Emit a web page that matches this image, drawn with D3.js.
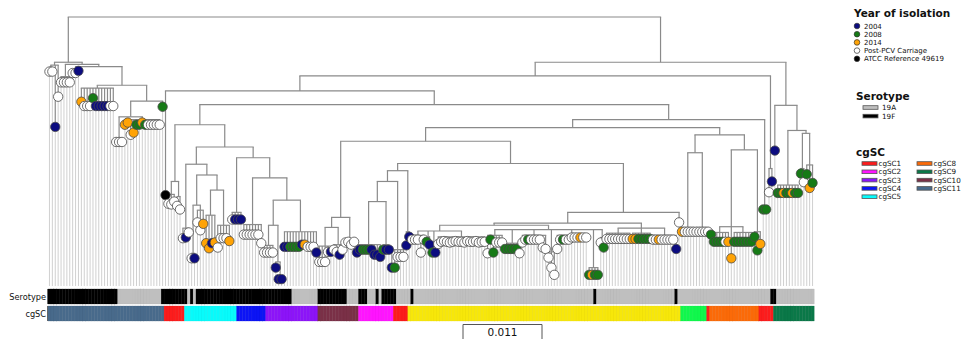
<!DOCTYPE html>
<html>
<head>
<meta charset="utf-8">
<script src="https://cdn.jsdelivr.net/npm/d3@7/dist/d3.min.js"></script>
<style>
  body { margin: 0; background: #fff; }
  text { font-family: "DejaVu Sans", Verdana, sans-serif; fill: #111; }
</style>
</head>
<body>
<svg id="tree" width="969" height="339"></svg>
<script>
// ---- tree (newick, branch lengths in substitutions/site), tip names = year code ----
// w = Post-PCV carriage, b = 2004, g = 2008, o = 2014, k = ATCC reference
const cladeA1 = "((w:.0006,w:.0006):.0003,b:.0086,w:.0044):.0004";
const cladeAQ = "(w:.0008,w:.0008,w:.0008,w:.0008):.0017";
const cladeAR = "(w:.0006,w:.0006,b:.0003):.0003";
const cladeAS = "(o:.0019,w:.0025,w:.0025,w:.0025,g:.0014,b:.0025,b:.0025,b:.0025,b:.0025,b:.0025,w:.0025,w:.0025):.0004";
const cladeAT = "(w:.0006,w:.0006,w:.0006):.0029";
const cladeAU = "(o:.0007,o:.0004,w:.0021,o:.0018,g:.0007,g:.0007,o:.0004,g:.0007,w:.0007,w:.0007,w:.0007,w:.0007,w:.0007):.0004";
const cladeA = "(" + cladeA1 + ",(" + cladeAQ + ",(" + cladeAR + ",(" + cladeAS + ",((" + cladeAT + "," + cladeAU +
  "):.0022,g:.0008):.0022):.0026):.0003):.0003):.0063";

const cladeE = "(((w:.0013,w:.0014,w:.0010):.0018,(w:.0013,w:.0018):.0021):.0079," +
  "(((w:.0014,b:.0013,w:.0006):.0089," +
  "(((w:.0007,b:.0007):.0067,(w:.0017,w:.0028,o:.0019):.0007):.0042," +
  "((o:.0039,o:.0046,b:.0039,o:.0038):.0035,(w:.0031,w:.0018,w:.0018,w:.0018,o:.0022):.0049):.0021):.0015):.0024," +
  "((w:.0010,b:.0010,b:.0010,b:.0010):.0076," +
  "((w:.0014,w:.0014,w:.0014,w:.0014,w:.0014,w:.0014,w:.0026):.0065," +
  "(((w:.0010,w:.0010,w:.0010,w:.0010):.0028,(b:.0008,(b:.0003,b:.0003):.0021):.0051):.0035," +
  "(b:.0021,b:.0021,g:.0021,g:.0021,g:.0021,g:.0021,b:.0018,o:.0018,w:.0021,w:.0021,w:.0021,b:.0029):.0044):.0031):.0028):.0015):.0031):.0028";

const cladeV = "(((w:.0022,w:.0022,w:.0022,w:.0008,b:.0008):.0026,(w:.0007,w:.0010,b:.0014,w:.0007):.0024):.0014," +
  "(w:.0004,w:.0003,w:.0007,w:.0003):.0031):.0106";

const cladeW = "((((b:.0011,b:.0007,g:.0007,g:.0007,g:.0007,b:.0007,b:.0014,b:.0014,b:.0017):.0060,(g:.0007,b:.0007,b:.0007):.0060):.0028," +
  "(b:.0025,g:.0025,w:.0010,w:.0010,w:.0010):.0095):.0015,(b:.0019,b:.0007):.0085):.0010";

const cladeN3 = "((w:.0006,w:.0006,w:.0006,w:.0024,w:.0006):.0006,(g:.0007,b:.0011):.0008,(g:.0008,b:.0008):.0022," +
  "(w:.0010,w:.0007,w:.0006,w:.0007,w:.0008,w:.0007,w:.0006,w:.0007,w:.0007,w:.0008,w:.0006,w:.0007,w:.0007,w:.0006,w:.0008,w:.0007,w:.0007):.0008):.0008";

const cladeN4 = "((w:.0025,g:.0006,g:.0024,w:.0010,w:.0010,w:.0010):.0008,(g:.0008,g:.0008,g:.0008,g:.0008,g:.0008,w:.0014):.0019," +
  "(w:.0010,w:.0006,g:.0006,w:.0006,w:.0006,w:.0006,w:.0006,w:.0017,w:.0019):.0008,(w:.0008,w:.0022,w:.0032):.0031," +
  "(w:.0019,w:.0006,g:.0006,w:.0006,w:.0006,w:.0003,w:.0003,w:.0003,o:.0003,w:.0003,w:.0003):.0008," +
  "(g:.0010,o:.0010,g:.0010,g:.0010):.0053,(w:.0007,g:.0014):.0011):.0006";

const cladeN5 = "((w:.0008,w:.0008,w:.0008,w:.0008,w:.0008,w:.0008,w:.0008,w:.0008,w:.0008):.0007," +
  "(o:.0008,o:.0008,g:.0008,g:.0008,g:.0008,g:.0008,g:.0008):.0007," +
  "(w:.0006,w:.0006,o:.0006,w:.0006,w:.0006,w:.0006,w:.0006,w:.0006,b:.0019):.0010):.0007";

const cladeZ = "(((o:.0006,w:.0006,w:.0006,w:.0006,w:.0006):.0104,(w:.0006,w:.0006,w:.0006,w:.0006,w:.0006):.0104):.0025," +
  "(((g:.0003,g:.0013,g:.0013,g:.0013,g:.0013,w:.0013,o:.0013):.0008,o:.0044,(g:.0013,g:.0013,g:.0013,g:.0013,g:.0013,g:.0013,g:.0013):.0008):.0107," +
  "(g:.0007,g:.0026,o:.0017):.0114):.0021):.0010";

const cladeB2 = "(b:.0063,((g:.0011,g:.0011,o:.0011,g:.0011,g:.0011,o:.0011,g:.0011,g:.0011):.0076," +
  "((g:.0007,w:.0019):.0049,(g:.0013,o:.0032,g:.0025):.0044):.0004):.0035):.0060";

const cladeY213 = "(((" + cladeN3 + "," + cladeN4 + "):.0003," + cladeN5 + "):.0015,w:.0014):.0068";
const cladeY142 = "(" + cladeV + ",(" + cladeW + "," + cladeY213 + "):.0031):.0019";
const cladeY120 = "((" + cladeY142 + "," + cladeZ + "):.0011,(g:.0004,g:.0004):.0121):.0021";
const cladeB1 = "((k:.0145,(" + cladeE + "," + cladeY120 + "):.0019):.0021,(w:.0033,b:.0018):.0129):.0019";
const treeNewick = "(" + cladeA + ",(" + cladeB1 + "," + cladeB2 + "):.0063);";

// ---- tip annotation ----
const yearCodes = ["b", "g", "o", "w", "k"];
const yearLabels = ["2004", "2008", "2014", "Post-PCV Carriage", "ATCC Reference 49619"];
const yearColors = ["#0c0c80", "#167a16", "#ffa305", "#ffffff", "#000000"];

const serotypeNames = ["19A", "19F"];
const serotypeColors = ["#bfbfbf", "#000000"];
// runs along the tips, left to right
const serotypeRuns = [["19F", 24], ["19A", 15], ["19F", 9], ["19A", 1], ["19F", 1], ["19A", 1], ["19F", 33],
  ["19A", 9], ["19F", 10], ["19A", 4], ["19F", 3], ["19A", 3], ["19F", 1], ["19A", 1], ["19F", 5], ["19A", 5],
  ["19F", 1], ["19A", 62], ["19F", 1], ["19A", 27], ["19F", 1], ["19A", 32], ["19F", 2], ["19A", 13]];

const cgscNames = ["cgSC1", "cgSC2", "cgSC3", "cgSC4", "cgSC5", "cgSC6", "cgSC7", "cgSC8", "cgSC9", "cgSC10", "cgSC11"];
const cgscColors = ["#fc1c1c", "#ff14ff", "#8c14f8", "#0c14f5", "#08fbfb", "#10f84c", "#f7e70a", "#fb6a08", "#0a7848", "#7a3047", "#486a8b"];
const cgscRuns = [["cgSC11", 40], ["cgSC1", 7], ["cgSC5", 18], ["cgSC4", 10], ["cgSC3", 18], ["cgSC10", 14],
  ["cgSC2", 12], ["cgSC1", 5], ["cgSC7", 94], ["cgSC6", 9], ["cgSC1", 1], ["cgSC8", 17], ["cgSC1", 5], ["cgSC9", 14]];
const cgscLegend = ["cgSC1", "cgSC2", "cgSC3", "cgSC4", "cgSC5", "cgSC8", "cgSC9", "cgSC10", "cgSC11"];

const scaleBarValue = 0.011;

// ---- newick parser ----
function parseNewick(s) {
  let i = 0;
  function node() {
    const n = {};
    if (s[i] === "(") {
      i++;
      n.children = [];
      do { n.children.push(node()); } while (s[i++] === ",");
    }
    let name = "";
    while (i < s.length && !",():;".includes(s[i])) name += s[i++];
    n.name = name;
    n.length = 0;
    if (s[i] === ":") {
      i++;
      let num = "";
      while (i < s.length && !",();".includes(s[i])) num += s[i++];
      n.length = +num;
    }
    return n;
  }
  return node();
}

const svg = d3.select("#tree");
const rootY = 17, tipBottom = 286;
const stripLeft = 48, stripRight = 814;

const root = d3.hierarchy(parseNewick(treeNewick));
root.eachBefore(d => d.dist = d.parent ? d.parent.dist + d.data.length : 0);
const leaves = root.leaves();

// tips along x, divergence down the page
const x = d3.scaleLinear().domain([0, leaves.length]).range([stripLeft, stripRight]);
const y = d3.scaleLinear().domain([0, scaleBarValue]).range([rootY, rootY + 79]);

leaves.forEach((d, i) => { d.x = x(i + 0.5); });
root.eachAfter(d => {
  if (d.children) d.x = (d.children[0].x + d.children[d.children.length - 1].x) / 2;
});

// faint guide lines from each tip down to the annotation strips
svg.append("g")
  .selectAll("line")
  .data(leaves)
  .join("line")
  .attr("x1", d => d.x).attr("x2", d => d.x)
  .attr("y1", d => y(d.dist)).attr("y2", tipBottom)
  .attr("stroke", "#d0d0d0")
  .attr("stroke-width", 1);

// branches: vertical to every node, horizontal across children
const branches = svg.append("g")
  .attr("fill", "none")
  .attr("stroke", "#8a8a8a")
  .attr("stroke-width", 1.2);
branches.selectAll(".v")
  .data(root.descendants().filter(d => d.parent))
  .join("line")
  .attr("class", "v")
  .attr("x1", d => d.x).attr("x2", d => d.x)
  .attr("y1", d => y(d.parent.dist)).attr("y2", d => y(d.dist));
branches.selectAll(".h")
  .data(root.descendants().filter(d => d.children))
  .join("line")
  .attr("class", "h")
  .attr("x1", d => d.children[0].x - 0.6)
  .attr("x2", d => d.children[d.children.length - 1].x + 0.6)
  .attr("y1", d => y(d.dist)).attr("y2", d => y(d.dist));

// tip circles coloured by year of isolation
const yearColor = d3.scaleOrdinal(yearCodes, yearColors);
svg.append("g")
  .selectAll("circle")
  .data(leaves)
  .join("circle")
  .attr("cx", d => d.x)
  .attr("cy", d => y(d.dist))
  .attr("r", 4.7)
  .attr("fill", d => yearColor(d.data.name))
  .attr("stroke", "#4a4a4a")
  .attr("stroke-width", 0.8);

// annotation strips
const serotypeByTip = serotypeRuns.flatMap(([k, n]) => Array(n).fill(k));
const cgscByTip = cgscRuns.flatMap(([k, n]) => Array(n).fill(k));
const serotypeColor = d3.scaleOrdinal(serotypeNames, serotypeColors);
const cgscColor = d3.scaleOrdinal(cgscNames, cgscColors);

function strip(values, colour, y0, label) {
  const g = svg.append("g");
  g.selectAll("rect")
    .data(values)
    .join("rect")
    .attr("x", (d, i) => x(i))
    .attr("width", (d, i) => x(i + 1) - x(i) + 0.2)
    .attr("y", y0)
    .attr("height", 15)
    .attr("fill", d => colour(d))
    .attr("stroke", d => d3.color(colour(d)).darker(0.25))
    .attr("stroke-width", 0.25);
  g.append("line")
    .attr("x1", stripLeft - 0.5).attr("x2", stripLeft - 0.5)
    .attr("y1", y0).attr("y2", y0 + 15)
    .attr("stroke", "#666");
  g.append("text")
    .attr("x", stripLeft - 2)
    .attr("y", y0 + 11)
    .attr("text-anchor", "end")
    .attr("font-size", 8.2)
    .text(label);
}
strip(serotypeByTip, serotypeColor, 289, "Serotype");
strip(cgscByTip, cgscColor, 306, "cgSC");

// scale bar
const barLen = y(scaleBarValue) - y(0);
const barMid = 502.5;
svg.append("path")
  .attr("d", `M${barMid - barLen / 2},340 V324.5 H${barMid + barLen / 2} V340`)
  .attr("fill", "none")
  .attr("stroke", "#555")
  .attr("stroke-width", 1);
svg.append("text")
  .attr("x", barMid)
  .attr("y", 336)
  .attr("text-anchor", "middle")
  .attr("font-size", 10.5)
  .text(scaleBarValue);

// legend
const legend = svg.append("g");
function header(text, xx, yy) {
  legend.append("text")
    .attr("x", xx).attr("y", yy)
    .attr("font-size", 10.5)
    .attr("font-weight", "bold")
    .text(text);
}

header("Year of isolation", 854, 17);
yearLabels.forEach((t, i) => {
  const cy = 26 + i * 8.2;
  legend.append("circle")
    .attr("cx", 857).attr("cy", cy).attr("r", 2.8)
    .attr("fill", yearColors[i]).attr("stroke", "#333").attr("stroke-width", 0.7);
  legend.append("text")
    .attr("x", 864).attr("y", cy + 2.6)
    .attr("font-size", 7)
    .text(t);
});

header("Serotype", 856, 100);
serotypeNames.forEach((t, i) => {
  const cy = 107.5 + i * 8.6;
  legend.append("rect")
    .attr("x", 863).attr("y", cy - 1.8).attr("width", 15).attr("height", 3.6)
    .attr("fill", serotypeColors[i]).attr("stroke", "#555").attr("stroke-width", 0.8);
  legend.append("text")
    .attr("x", 882).attr("y", cy + 2.6)
    .attr("font-size", 7.2)
    .text(t);
});

header("cgSC", 856, 156);
cgscLegend.forEach((t, i) => {
  const col = Math.floor(i / 5), row = i % 5;
  const cx = col ? 917 : 862;
  const cy = 163.5 + row * 8.3;
  legend.append("rect")
    .attr("x", cx).attr("y", cy - 1.8).attr("width", 15).attr("height", 3.6)
    .attr("fill", cgscColor(t)).attr("stroke", "#555").attr("stroke-width", 0.8);
  legend.append("text")
    .attr("x", cx + 16.5).attr("y", cy + 2.6)
    .attr("font-size", 7.2)
    .text(t);
});
</script>
</body>
</html>
